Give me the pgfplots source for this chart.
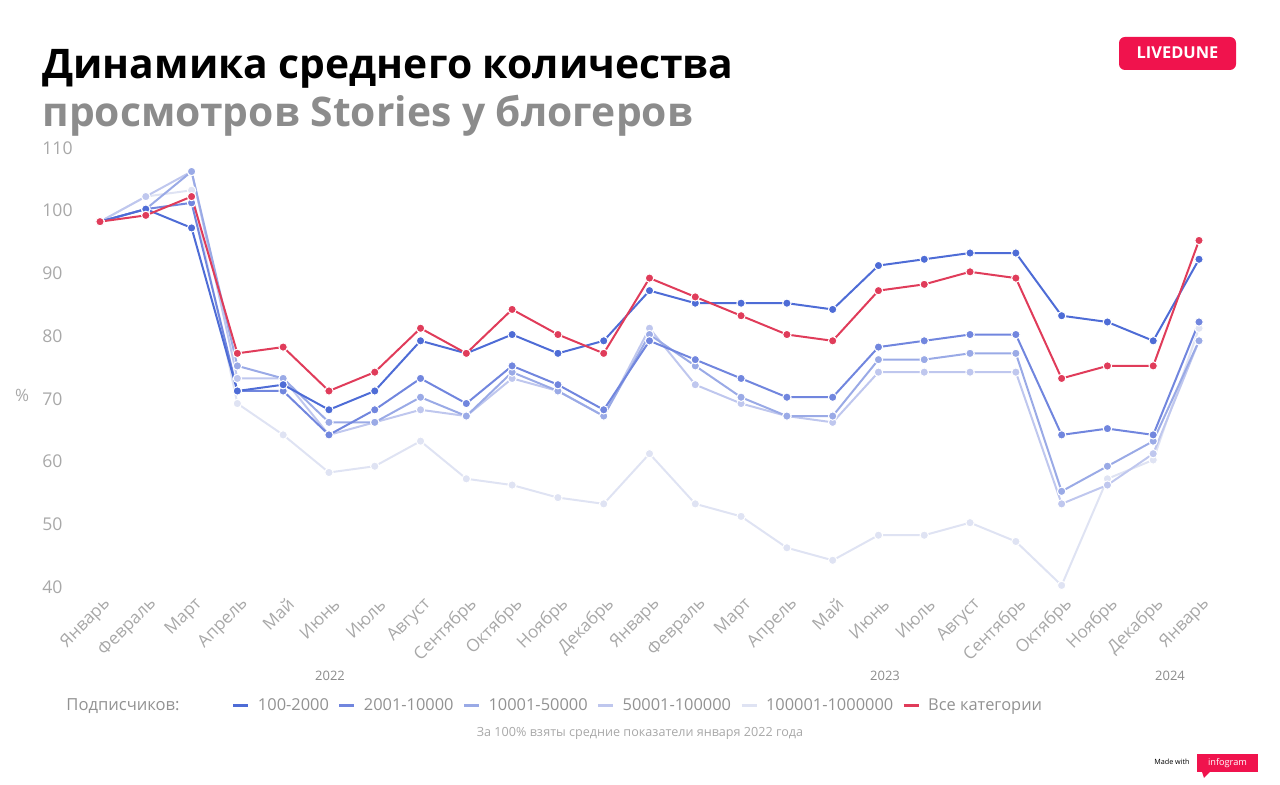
\documentclass[border=0pt]{standalone}
\usepackage{fontspec}
\setmainfont{Open Sans}
\usepackage{pgfplots}
\pgfplotsset{compat=1.18}
\usepackage{pgfplotstable}
\definecolor{cA}{HTML}{4E6CD6}
\definecolor{cB}{HTML}{7186DE}
\definecolor{cC}{HTML}{9AAAE6}
\definecolor{cD}{HTML}{BFC7EE}
\definecolor{cE}{HTML}{DFE3F3}
\definecolor{cR}{HTML}{E03C5A}
\definecolor{tgray}{HTML}{A8A8A8}
\definecolor{lgray}{HTML}{929292}
\definecolor{sgray}{HTML}{8C8C8C}
\definecolor{brand}{HTML}{F0134D}

\pgfplotstableread{
i a b c d e r
0 98 98 98 98 98 98
1 100 100 100 102 102 99
2 97 101 106 106 103 102
3 71 71 75 73 69 77
4 72 71 73 73 64 78
5 68 64 66 64 58 71
6 71 68 66 66 59 74
7 79 73 70 68 63 81
8 77 69 67 67 57 77
9 80 75 74 73 56 84
10 77 72 71 71 54 80
11 79 68 67 67 53 77
12 87 79 80 81 61 89
13 85 76 75 72 53 86
14 85 73 70 69 51 83
15 85 70 67 67 46 80
16 84 70 67 66 44 79
17 91 78 76 74 48 87
18 92 79 76 74 48 88
19 93 80 77 74 50 90
20 93 80 77 74 47 89
21 83 64 55 53 40 73
22 82 65 59 56 57 75
23 79 64 63 61 60 75
24 92 82 79 79 81 95
}\data

\pgfplotsset{
  ser/.style={line width=1pt, mark=*, mark size=2.1pt, color=#1,
    mark options={draw=white, fill=#1, line width=0.5pt}},
}

\begin{document}
\begin{tikzpicture}
\useasboundingbox (0pt,0pt) rectangle (640pt,392.5pt);
% titles
\node[anchor=base west, inner sep=0pt, font=\fontsize{20.4}{24}\selectfont\bfseries] at (21pt,353.4pt) {Динамика среднего количества};
\node[anchor=base west, inner sep=0pt, text=sgray, font=\fontsize{20.4}{24}\selectfont\bfseries] at (21pt,329.2pt) {просмотров Stories у блогеров};
% brand badge
\fill[brand, rounded corners=3pt] (559.5pt,357.5pt) rectangle (618pt,374pt);
\node[text=white, font=\fontsize{8.2}{10}\selectfont\bfseries, inner sep=0pt] at (588.75pt,365.9pt) {LIVEDUNE};
% percent label
\node[text=tgray, font=\fontsize{8.5}{10}\selectfont, inner sep=0pt] at (11pt,195pt) {\%};
% year labels
\node[text=sgray, font=\fontsize{6.5}{8}\selectfont, inner sep=0pt] at (165pt,54.5pt) {2022};
\node[text=sgray, font=\fontsize{6.5}{8}\selectfont, inner sep=0pt] at (442.5pt,54.5pt) {2023};
\node[text=sgray, font=\fontsize{6.5}{8}\selectfont, inner sep=0pt] at (585pt,54.5pt) {2024};
% legend title
\node[anchor=west, text=lgray, font=\fontsize{8.3}{10}\selectfont, inner sep=0pt] at (33pt,39.5pt) {Подписчиков:};
% footnote
\node[text=tgray, font=\fontsize{6.3}{8}\selectfont, inner sep=0pt] at (320pt,26pt) {За 100\% взяты средние показатели января 2022 года};
% made with infogram
\node[anchor=east, font=\fontsize{3.6}{4}\selectfont, inner sep=0pt] at (595pt,11.5pt) {Made with};
\fill[brand] (598.5pt,6.5pt) rectangle (629pt,15.5pt);
\fill[brand] (601pt,6.6pt) -- (605pt,6.6pt) -- (602pt,3.5pt) -- cycle;
\node[text=white, font=\fontsize{4.6}{5}\selectfont, inner sep=0pt] at (613.75pt,11pt) {infogram};

\begin{axis}[
  at={(50pt,99.8pt)}, anchor=south west,
  scale only axis, width=549.5pt, height=219.5pt,
  xmin=0, xmax=24, ymin=40, ymax=110,
  clip=false,
  axis line style={draw=none},
  major tick length=0pt,
  xtick={0,...,24},
  xticklabels={Январь,Февраль,Март,Апрель,Май,Июнь,Июль,Август,Сентябрь,Октябрь,Ноябрь,Декабрь,Январь,Февраль,Март,Апрель,Май,Июнь,Июль,Август,Сентябрь,Октябрь,Ноябрь,Декабрь,Январь},
  xticklabel style={xshift=4pt, yshift=-8pt, rotate=45, anchor=east, inner sep=0pt, text=tgray, font=\fontsize{8.6}{10}\selectfont},
  ytick={40,50,...,110},
  yticklabel style={anchor=west, xshift=-29pt, yshift=-0.8pt, inner sep=0pt, text=tgray, font=\fontsize{8.8}{10}\selectfont},
  /pgf/number format/assume math mode=true,
  legend columns=-1,
  legend style={at={(0.1201,-0.2747)}, anchor=west, draw=none, fill=none,
    inner sep=0pt, outer sep=0pt,
    font=\fontsize{8.2}{10}\selectfont, text=lgray,
    nodes={inner sep=0pt},
    /tikz/every odd column/.append style={column sep=4pt},
    /tikz/every even column/.append style={column sep=4.5pt}},
  legend image code/.code={\draw[line width=1.5pt] (0pt,0pt) -- (7.5pt,0pt);},
]
\addlegendimage{cA}\addlegendentry{100-2000}
\addlegendimage{cB}\addlegendentry{2001-10000}
\addlegendimage{cC}\addlegendentry{10001-50000}
\addlegendimage{cD}\addlegendentry{50001-100000}
\addlegendimage{cE}\addlegendentry{100001-1000000}
\addlegendimage{cR}\addlegendentry{Все категории}
\addplot[ser=cE, forget plot] table[x=i, y=e] {\data};
\addplot[ser=cD, forget plot] table[x=i, y=d] {\data};
\addplot[ser=cC, forget plot] table[x=i, y=c] {\data};
\addplot[ser=cB, forget plot] table[x=i, y=b] {\data};
\addplot[ser=cA, forget plot] table[x=i, y=a] {\data};
\addplot[ser=cR, forget plot] table[x=i, y=r] {\data};
\end{axis}
\end{tikzpicture}
\end{document}
